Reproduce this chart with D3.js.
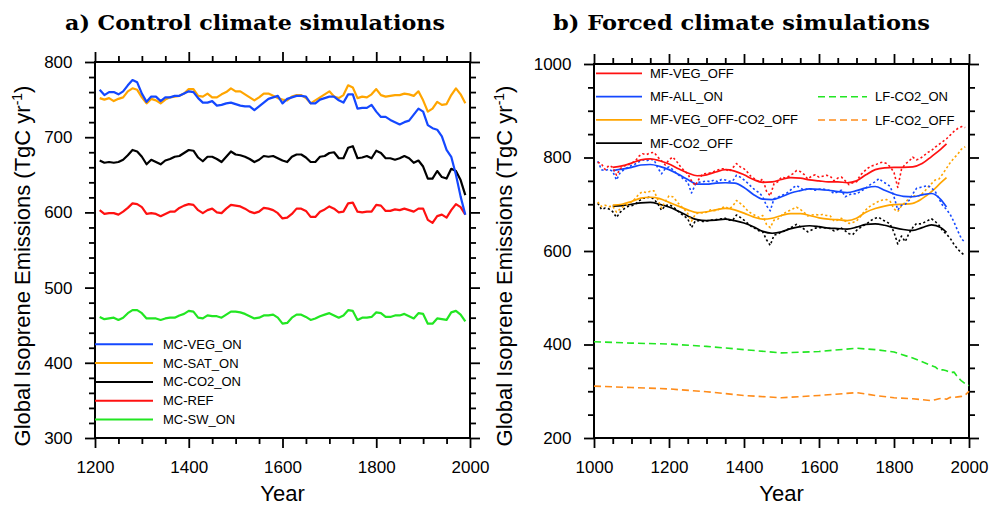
<!DOCTYPE html>
<html>
<head>
<meta charset="utf-8">
<script src="https://cdn.jsdelivr.net/npm/d3@7/dist/d3.min.js"></script>
<style>
  body { margin: 0; background: #fff; }
  svg { display: block; }
</style>
</head>
<body>
<svg id="chart" width="990" height="505"></svg>
<script>
// ---------------------------------------------------------------------------
// DATA
// ---------------------------------------------------------------------------

// a) control simulations, one value every 10 years (1210 .. 1990)
const ctlYears = d3.range(1210, 1991, 10);

const mcVegOn = [
  763, 756, 760, 760, 757, 761, 769, 776, 773, 758,
  747, 754, 754, 748, 753, 753, 755, 755, 758, 761,
  760, 752, 746, 746, 748, 742, 743, 745, 746, 744,
  742, 741, 741, 736, 741, 746, 751, 753, 755, 745,
  751, 753, 755, 755, 754, 745, 745, 750, 752, 754,
  754, 749, 746, 757, 757, 738, 739, 739, 743, 734,
  727, 727, 723, 720, 717, 720, 722, 730, 738, 734,
  716, 712, 710, 701, 683, 674, 650, 621, 597
];
const mcSatOn = [
  752, 750, 752, 748, 751, 753, 761, 765, 763, 753,
  745, 751, 749, 745, 750, 753, 754, 755, 758, 764,
  764, 755, 754, 758, 753, 753, 757, 760, 765, 761,
  761, 757, 753, 749, 753, 758, 758, 755, 752, 750,
  749, 754, 756, 756, 752, 745, 749, 753, 757, 761,
  754, 752, 756, 769, 766, 752, 754, 753, 757, 764,
  756, 754, 755, 756, 756, 758, 757, 755, 761, 749,
  734, 738, 747, 743, 744, 756, 765, 757, 745
];
const mcCo2On = [
  669, 666, 667, 666, 667, 670, 676, 683, 681, 674,
  664, 670, 667, 664, 669, 671, 674, 675, 679, 683,
  682, 673, 668, 674, 674, 671, 667, 674, 681, 677,
  676, 674, 671, 667, 670, 675, 674, 675, 672, 669,
  667, 674, 677, 677, 673, 667, 667, 674, 675, 679,
  680, 672, 672, 686, 688, 672, 673, 675, 672, 682,
  679, 672, 672, 670, 672, 675, 672, 666, 669, 661,
  645, 645, 655, 647, 645, 658, 655, 643, 623
];
const mcRef = [
  603, 598, 599, 599, 597, 601, 606, 612, 611, 607,
  598, 599, 598, 595, 598, 601, 601, 606, 609, 611,
  610, 603, 599, 603, 605, 600, 599, 605, 610, 609,
  608, 605, 601, 599, 601, 606, 605, 603, 599, 592,
  593, 598, 605, 605, 602, 594, 594, 601, 604, 608,
  605, 600, 601, 612, 613, 601, 600, 601, 601, 610,
  609, 602, 602, 604, 603, 605, 603, 601, 605, 605,
  590, 586, 595, 597, 593, 603, 611, 607, 597
];
const mcSwOn = [
  461, 458, 459, 460, 457, 460, 466, 470, 470, 466,
  459, 459, 459, 457, 459, 460, 460, 463, 465, 469,
  468, 460, 459, 463, 462, 462, 460, 464, 468, 468,
  467, 465, 462, 459, 460, 463, 463, 464, 460, 452,
  453, 460, 464, 464, 461, 457, 459, 462, 464, 466,
  463, 460, 463, 470, 469, 457, 460, 460, 461, 467,
  466, 461, 461, 463, 463, 465, 462, 459, 466, 465,
  452, 452, 459, 458, 457, 467, 469, 464, 455
];

// b) forced simulations, smoothed curves (solid)
const smoothYears = [
  1050, 1075, 1100, 1125, 1150, 1175, 1200, 1225, 1250, 1275,
  1300, 1325, 1350, 1375, 1400, 1425, 1450, 1475, 1500, 1525,
  1550, 1575, 1600, 1625, 1650, 1675, 1700, 1725, 1750, 1775,
  1800, 1825, 1850, 1875, 1900, 1925, 1940
];
const mfVegOff = [
  779, 782, 788, 795, 797, 793, 786, 776, 767, 761,
  763, 769, 774, 771, 763, 753, 747, 748, 753, 757,
  756, 752, 750, 748, 748, 746, 750, 763, 774, 778,
  779, 779, 780, 787, 802, 818, 829
];
const mfAllOn = [
  772, 775, 779, 784, 785, 781, 774, 764, 753, 743,
  743, 745, 746, 745, 736, 721, 711, 710, 716, 724,
  729, 733, 732, 730, 727, 725, 729, 735, 738, 730,
  722, 717, 716, 720, 723, 710, 694
];
const mfVegOffCo2Off = [
  698, 700, 706, 713, 715, 712, 704, 696, 688, 682,
  684, 688, 691, 688, 681, 673, 668, 670, 676, 680,
  680, 676, 671, 668, 667, 665, 670, 683, 691, 696,
  699, 700, 702, 712, 727, 746, 757
];
const mfCo2Off = [
  696, 697, 700, 703, 704, 700, 694, 685, 675, 667,
  665, 666, 668, 665, 660, 652, 642, 638, 641, 648,
  652, 654, 652, 649, 648, 647, 651, 657, 658, 655,
  650, 646, 644, 650, 656, 650, 640
];

// b) forced simulations, decadal values (dotted), 1010 .. 1990
const rawYears = d3.range(1010, 1991, 10);
const mfVegOffRaw = [
  790, 786, 774, 783, 779, 762, 776, 782, 784, 788,
  792, 803, 808, 806, 810, 811, 801, 793, 784, 795,
  801, 792, 781, 772, 765, 750, 740, 754, 765, 766,
  767, 770, 773, 776, 776, 770, 778, 787, 780, 776,
  768, 758, 754, 748, 754, 728, 718, 744, 748, 758,
  756, 760, 765, 772, 770, 764, 754, 760, 763, 758,
  760, 762, 760, 750, 756, 758, 750, 742, 746, 748,
  762, 770, 777, 782, 784, 788, 790, 787, 780, 768,
  736, 775, 786, 792, 801, 795, 798, 804, 811, 815,
  822, 828, 834, 840, 848, 856, 862, 866, 864
];
const mfAllOnRaw = [
  792, 774, 772, 775, 770, 752, 768, 774, 779, 783,
  786, 791, 795, 793, 796, 795, 778, 765, 776, 780,
  774, 766, 760, 753, 747, 724, 742, 747, 748, 750,
  748, 752, 748, 753, 752, 749, 750, 762, 758, 752,
  745, 737, 730, 725, 716, 697, 686, 712, 715, 719,
  722, 727, 735, 740, 735, 730, 733, 732, 730, 732,
  733, 731, 729, 723, 727, 730, 716, 720, 723, 722,
  727, 732, 738, 744, 748, 755, 748, 744, 738, 716,
  688, 698, 700, 708, 722, 734, 736, 738, 740, 735,
  727, 712, 697, 689, 678, 662, 643, 626, 618
];
const mfVegOffCo2OffRaw = [
  705, 695, 698, 695, 696, 683, 690, 696, 700, 705,
  712, 722, 727, 725, 728, 729, 710, 692, 706, 718,
  716, 707, 697, 690, 680, 664, 678, 683, 681, 683,
  688, 686, 688, 692, 695, 690, 696, 708, 702, 695,
  686, 680, 676, 672, 676, 657, 650, 666, 668, 676,
  682, 686, 690, 694, 689, 683, 675, 677, 678, 677,
  678, 676, 675, 664, 666, 670, 664, 659, 661, 664,
  673, 684, 692, 698, 702, 707, 709, 710, 706, 690,
  684, 697, 704, 712, 719, 716, 719, 726, 736, 744,
  752, 754, 765, 777, 789, 799, 807, 818, 823
];
const mfCo2OffRaw = [
  702, 689, 692, 690, 684, 672, 683, 690, 695, 697,
  700, 707, 713, 713, 716, 711, 701, 687, 697, 699,
  695, 688, 681, 675, 669, 650, 664, 665, 663, 664,
  666, 666, 668, 669, 670, 666, 666, 677, 672, 666,
  659, 652, 648, 643, 641, 624, 612, 634, 636, 641,
  643, 648, 652, 657, 652, 647, 641, 645, 649, 650,
  650, 649, 648, 643, 646, 649, 643, 637, 635, 644,
  650, 655, 660, 666, 670, 672, 666, 663, 657, 640,
  615, 632, 620, 638, 650, 659, 658, 661, 665, 669,
  663, 655, 643, 636, 627, 614, 604, 596, 590
];

// b) LF simulations (dashed)
const lfYears = [
  1000, 1100, 1200, 1300, 1400, 1500, 1600, 1700, 1750, 1800, 1850,
  1900, 1910, 1920, 1930, 1940, 1950, 1960, 1970, 1980, 1990, 2000
];
const lfCo2On = [
  406, 403, 401, 396, 389, 382, 385, 392, 389, 384, 371,
  355, 352, 345, 346, 344, 340, 341, 330, 322, 316, 312
];
const lfCo2Off = [
  311, 308, 305, 299, 291, 286, 291, 297, 291, 286, 284,
  280, 282, 284, 285, 283, 287, 287, 288, 289, 292, 300
];

// ---------------------------------------------------------------------------
// STYLE
// ---------------------------------------------------------------------------
const colors = {
  blue: "#1448ff",
  orange: "#ffa500",
  black: "#000000",
  red: "#ff1111",
  green: "#22e622",
  darkorange: "#ff8c1a"
};
const sans = "'Liberation Sans', Arial, Helvetica, sans-serif";
const serif = "'DejaVu Serif', 'Liberation Serif', serif";

const svg = d3.select("#chart");

// ---------------------------------------------------------------------------
// PANELS
// ---------------------------------------------------------------------------
function make_panel(p){
  const x = d3.scaleLinear().domain(p.xDomain).range([p.left, p.right]);
  const y = d3.scaleLinear().domain(p.yDomain).range([p.bottom, p.top]);
  const g = svg.append("g");

  const xMajor = d3.range(p.xDomain[0], p.xDomain[1] + 1, p.xStep);
  const xMinor = d3.range(p.xDomain[0], p.xDomain[1] + 1, p.xMinor)
    .filter(v => !xMajor.includes(v));
  const yMajor = d3.range(p.yDomain[0], p.yDomain[1] + 1, p.yStep);
  const yMinor = d3.range(p.yDomain[0], p.yDomain[1] + 1, p.yMinor)
    .filter(v => !yMajor.includes(v));

  // ticks on all four sides, pointing outward
  function ticks(axis, transform, values, size, labels){
    const a = g.append("g")
      .attr("transform", transform)
      .call(axis.tickValues(values).tickSize(size).tickSizeOuter(0)
        .tickPadding(p.pad).tickFormat(labels ? d3.format("d") : ""));
    a.select(".domain").remove();
    a.selectAll("line").attr("stroke", "#000").attr("stroke-width", 1.8);
    a.selectAll("text").style("font-family", sans).style("font-size", "17px")
      .attr("fill", "#000");
    return a;
  }
  ticks(d3.axisBottom(x), "translate(0," + p.bottom + ")", xMajor, 10, true);
  ticks(d3.axisBottom(x), "translate(0," + p.bottom + ")", xMinor, 6, false);
  ticks(d3.axisTop(x), "translate(0," + p.top + ")", xMajor, 10, false);
  ticks(d3.axisTop(x), "translate(0," + p.top + ")", xMinor, 6, false);
  ticks(d3.axisLeft(y), "translate(" + p.left + ",0)", yMajor, 10, true);
  ticks(d3.axisLeft(y), "translate(" + p.left + ",0)", yMinor, 6, false);
  ticks(d3.axisRight(y), "translate(" + p.right + ",0)", yMajor, 10, false);
  ticks(d3.axisRight(y), "translate(" + p.right + ",0)", yMinor, 6, false);

  g.append("rect")
    .attr("x", p.left).attr("y", p.top)
    .attr("width", p.right - p.left).attr("height", p.bottom - p.top)
    .attr("fill", "none").attr("stroke", "#000").attr("stroke-width", 2);

  // titles
  g.append("text")
    .attr("x", p.titleX).attr("y", 30)
    .attr("textLength", p.titleW).attr("lengthAdjust", "spacingAndGlyphs")
    .style("font-family", serif).style("font-weight", "bold")
    .style("font-size", "21px")
    .text(p.title);

  g.append("text")
    .attr("x", (p.left + p.right) / 2).attr("y", 501)
    .attr("text-anchor", "middle")
    .style("font-family", sans).style("font-size", "22px")
    .text("Year");

  const yl = g.append("text")
    .attr("transform", "translate(" + p.labelX + "," + p.labelY + ") rotate(-90)")
    .attr("text-anchor", "middle")
    .style("font-family", sans).style("font-size", "22px");
  yl.append("tspan").text("Global Isoprene Emissions (TgC yr");
  yl.append("tspan").attr("dy", -8).style("font-size", "14px").text("-1");
  yl.append("tspan").attr("dy", 8).text(")");

  return {x: x, y: y, g: g};
}

function draw_series(panel, years, values, style){
  const line = d3.line()
    .x(d => panel.x(d[0]))
    .y(d => panel.y(d[1]))
    .curve(style.curve || d3.curveLinear);
  panel.g.append("path")
    .datum(d3.zip(years, values))
    .attr("d", line)
    .attr("fill", "none")
    .attr("stroke", style.color)
    .attr("stroke-width", style.width)
    .attr("stroke-dasharray", style.dash || null)
    .attr("stroke-linejoin", "round");
}

function legend_item(panel, x0, x1, yy, label, style){
  panel.g.append("line")
    .attr("x1", x0).attr("x2", x1).attr("y1", yy).attr("y2", yy)
    .attr("stroke", style.color).attr("stroke-width", style.width)
    .attr("stroke-dasharray", style.dash || null);
  panel.g.append("text")
    .attr("x", x1 + style.gap).attr("y", yy + 4.5)
    .style("font-family", sans).style("font-size", "13px")
    .text(label);
}

// ------------------------------ panel a -----------------------------------
const pa = make_panel({
  left: 95, right: 470, top: 62, bottom: 438,
  xDomain: [1200, 2000], xStep: 200, xMinor: 50,
  yDomain: [300, 800], yStep: 100, yMinor: 20,
  pad: 12.5,
  title: "a) Control climate simulations", titleX: 65, titleW: 380,
  labelX: 30, labelY: 266
});

const ctlSeries = [
  {name: "MC-VEG_ON", values: mcVegOn, color: colors.blue},
  {name: "MC-SAT_ON", values: mcSatOn, color: colors.orange},
  {name: "MC-CO2_ON", values: mcCo2On, color: colors.black},
  {name: "MC-REF", values: mcRef, color: colors.red},
  {name: "MC-SW_ON", values: mcSwOn, color: colors.green}
];
// draw so that blue ends up on top of orange, as in the figure
[mcSwOn, mcRef, mcCo2On, mcSatOn, mcVegOn].forEach(function(v){
  const s = ctlSeries.find(d => d.values === v);
  draw_series(pa, ctlYears, s.values, {color: s.color, width: 2.2});
});
ctlSeries.forEach(function(s, i){
  legend_item(pa, 95, 153, 344.3 + i * 18.8, s.name,
    {color: s.color, width: 2, gap: 10});
});

// ------------------------------ panel b -----------------------------------
const pb = make_panel({
  left: 594, right: 969, top: 64, bottom: 438,
  xDomain: [1000, 2000], xStep: 200, xMinor: 50,
  yDomain: [200, 1000], yStep: 200, yMinor: 50,
  pad: 12.5,
  title: "b) Forced climate simulations", titleX: 553, titleW: 377,
  labelX: 512, labelY: 266
});

const frcSeries = [
  {name: "MF-VEG_OFF", smooth: mfVegOff, raw: mfVegOffRaw, color: colors.red},
  {name: "MF-ALL_ON", smooth: mfAllOn, raw: mfAllOnRaw, color: colors.blue},
  {name: "MF-VEG_OFF-CO2_OFF", smooth: mfVegOffCo2Off, raw: mfVegOffCo2OffRaw,
    color: colors.orange},
  {name: "MF-CO2_OFF", smooth: mfCo2Off, raw: mfCo2OffRaw, color: colors.black}
];
const lfSeries = [
  {name: "LF-CO2_ON", values: lfCo2On, color: colors.green},
  {name: "LF-CO2_OFF", values: lfCo2Off, color: colors.darkorange}
];

lfSeries.forEach(function(s){
  draw_series(pb, lfYears, s.values, {color: s.color, width: 1.6, dash: "7,4"});
});
frcSeries.slice().reverse().forEach(function(s){
  draw_series(pb, rawYears, s.raw, {color: s.color, width: 1.6, dash: "2.2,2.4"});
  draw_series(pb, smoothYears, s.smooth,
    {color: s.color, width: 1.7, curve: d3.curveMonotoneX});
});

frcSeries.forEach(function(s, i){
  legend_item(pb, 596, 642, 73.3 + i * 23.3, s.name,
    {color: s.color, width: 1.7, gap: 8});
});
lfSeries.forEach(function(s, i){
  legend_item(pb, 818, 867, 96.7 + i * 23.3, s.name,
    {color: s.color, width: 1.6, dash: "7,4", gap: 8});
});
</script>
</body>
</html>
